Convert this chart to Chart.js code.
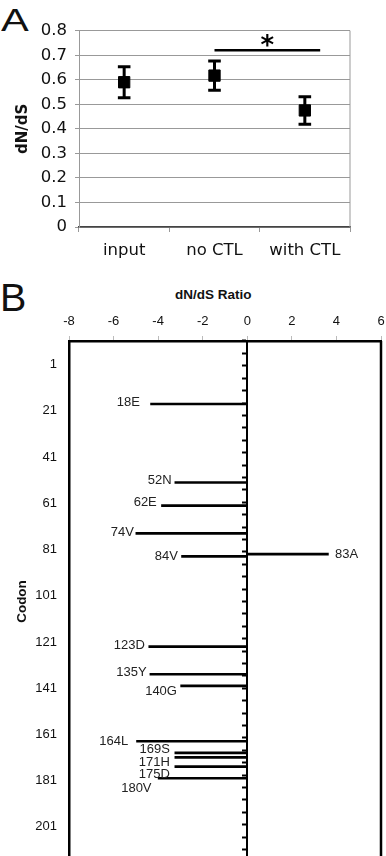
<!DOCTYPE html>
<html>
<head>
<meta charset="utf-8">
<script src="https://cdn.jsdelivr.net/npm/chart.js@4.4.1/dist/chart.umd.min.js"></script>
<style>
  html, body { margin: 0; padding: 0; background: #fff; overflow: hidden; }
  body { width: 386px; height: 856px; position: relative; font-family: 'Liberation Sans', Arial, sans-serif; color: #111; }
  canvas { position: absolute; left: 0; }
  #chartA { top: 0; }
  #chartB { top: 300px; }
  .panel { position: absolute; line-height: 1; color: #111; white-space: nowrap; }
  #labelA { left: 1px; top: 4px; font-size: 32px; transform: scaleX(1.3); transform-origin: left top; }
  #labelB { left: 0; top: 278px; font-size: 39.5px; }
  #titleB { left: 175px; top: 287.5px; font-size: 13.5px; font-weight: bold; }
</style>
</head>
<body>
<div class="panel" id="labelA">A</div>
<div class="panel" id="labelB">B</div>
<div class="panel" id="titleB">dN/dS Ratio</div>
<canvas id="chartA" width="386" height="270"></canvas>
<canvas id="chartB" width="386" height="570"></canvas>
<script>
// Panel A: mean dN/dS per group
const groups = ['input', 'no CTL', 'with CTL'];
const meanRatio = [0.59, 0.617, 0.475];
const ratioError = [0.063, 0.06, 0.056];
const ratioTicks = [0, 0.1, 0.2, 0.3, 0.4, 0.5, 0.6, 0.7, 0.8];
const sigLevel = 0.72;
const sigSpan = [1, 2.17]; // category index: "no CTL" to just past "with CTL"

// Panel B: dN/dS ratio by codon
const codons = [18, 52, 62, 74, 84, 83, 123, 135, 140, 164, 169, 171, 175, 180];
const residues = ['E', 'N', 'E', 'V', 'V', 'A', 'D', 'Y', 'G', 'L', 'S', 'H', 'D', 'V'];
const codonRatio = [-4.34, -3.25, -3.85, -5.0, -2.95, 3.64, -4.42, -4.37, -2.99, -4.97, -3.25, -3.25, -3.25, -4.0];
const ratioAxisTicks = [-8, -6, -4, -2, 0, 2, 4, 6];
const codonTicks = [1, 21, 41, 61, 81, 101, 121, 141, 161, 181, 201];

// label offsets from the bar end (px)
const labelNudge = [[-10.7, -1.5], [-3.3, -2.3], [-4.7, -3.3], [-2, -0.5], [-3.7, -0.2], [6.7, 0.6], [-4, -1.1],
  [-3.3, -1.6], [-3.7, 5.7], [-8.4, 0.5], [-5, -3], [-5, 4.7], [-5, 8], [-6.6, 10.1]];

const minorCodonTicks = [];
for (let c = 1; c <= 206; c += 5) minorCodonTicks.push(c);

const frame = {
  id: 'frame',
  afterDraw(chart, args, opts) {
    const { ctx, chartArea: a } = chart;
    ctx.save();
    ctx.strokeStyle = opts.color;
    ctx.lineWidth = opts.width;
    ctx.beginPath();
    ctx.moveTo(a.right, a.top);
    ctx.lineTo(a.right, a.bottom);
    ctx.stroke();
    ctx.restore();
  }
};

const errorBars = {
  id: 'errorBars',
  beforeDatasetsDraw(chart) {
    const { ctx, scales: { x, y } } = chart;
    ctx.save();
    ctx.strokeStyle = '#000';
    ctx.lineWidth = 3;
    meanRatio.forEach((m, i) => {
      const px = x.getPixelForValue(i);
      const top = y.getPixelForValue(m + ratioError[i]);
      const bot = y.getPixelForValue(m - ratioError[i]);
      ctx.beginPath();
      ctx.moveTo(px, top); ctx.lineTo(px, bot);
      ctx.moveTo(px - 6.3, top); ctx.lineTo(px + 6.3, top);
      ctx.moveTo(px - 6.3, bot); ctx.lineTo(px + 6.3, bot);
      ctx.stroke();
    });
    const sy = y.getPixelForValue(sigLevel);
    const x1 = x.getPixelForValue(sigSpan[0]);
    const x2 = x.getPixelForValue(sigSpan[1]);
    ctx.lineWidth = 2.5;
    ctx.beginPath();
    ctx.moveTo(x1, sy); ctx.lineTo(x2, sy);
    ctx.stroke();
    ctx.fillStyle = '#000';
    ctx.font = 'bold 26px "DejaVu Sans"';
    ctx.textAlign = 'center';
    ctx.textBaseline = 'alphabetic';
    ctx.fillText('*', (x1 + x2) / 2, sy + 4);
    ctx.restore();
  }
};

const codonLabels = {
  id: 'codonLabels',
  afterDatasetsDraw(chart) {
    const { ctx, scales: { x, y } } = chart;
    ctx.save();
    ctx.fillStyle = '#222';
    ctx.font = '13px "Liberation Sans"';
    ctx.textBaseline = 'middle';
    codons.forEach((c, i) => {
      const v = codonRatio[i];
      ctx.textAlign = v < 0 ? 'right' : 'left';
      ctx.fillText(c + residues[i], x.getPixelForValue(v) + labelNudge[i][0], y.getPixelForValue(c) + labelNudge[i][1]);
    });
    ctx.restore();
  }
};

const fontA = { family: 'DejaVu Sans', size: 16.5 };
const fontB = { family: 'Liberation Sans', size: 13 };
const noPadY = s => { s.paddingTop = 0; s.paddingBottom = 0; };

new Chart(document.getElementById('chartA'), {
  type: 'line',
  data: {
    labels: groups,
    datasets: [{
      data: meanRatio,
      showLine: false,
      pointStyle: 'rect',
      pointRadius: 8,
      pointBackgroundColor: '#000',
      pointBorderColor: '#000',
      pointBorderWidth: 1
    }]
  },
  options: {
    responsive: false,
    animation: false,
    layout: { padding: { top: 30.7, right: 36, bottom: 0, left: 0 } },
    plugins: { legend: { display: false }, tooltip: { enabled: false }, frame: { color: '#999', width: 1 } },
    scales: {
      x: {
        offset: true,
        grid: { offset: true, drawOnChartArea: false, tickLength: 5, color: '#999' },
        border: { color: '#444', width: 1.5 },
        ticks: { color: '#111', padding: 9, font: fontA },
        afterFit: s => { s.height = 43; s.paddingLeft = 0; s.paddingRight = 0; }
      },
      y: {
        min: 0,
        max: 0.8,
        afterBuildTicks: s => { s.ticks = ratioTicks.map(v => ({ value: v })); },
        grid: { color: '#999', tickLength: 4 },
        border: { color: '#999' },
        ticks: { color: '#111', padding: 8, font: fontA, callback: v => String(v) },
        title: { display: true, text: 'dN/dS', color: '#111', font: { family: 'DejaVu Sans', size: 15, weight: 'bold' }, padding: { top: 14, bottom: 0 } },
        afterFit: s => { s.width = 79; noPadY(s); }
      }
    }
  },
  plugins: [errorBars, frame]
});

new Chart(document.getElementById('chartB'), {
  type: 'bar',
  data: {
    datasets: [{
      data: codons.map((c, i) => ({ x: codonRatio[i], y: c })),
      backgroundColor: '#000',
      barThickness: 2
    }]
  },
  options: {
    indexAxis: 'y',
    responsive: false,
    animation: false,
    layout: { padding: { top: 0, right: 5, bottom: 8, left: 0 } },
    plugins: { legend: { display: false }, tooltip: { enabled: false }, frame: { color: '#000', width: 2.5 } },
    scales: {
      x: {
        type: 'linear',
        position: 'top',
        min: -8,
        max: 6,
        afterBuildTicks: s => { s.ticks = ratioAxisTicks.map(v => ({ value: v })); },
        grid: { drawOnChartArea: false, tickLength: 5, color: '#bbb' },
        border: { color: '#000', width: 2.5 },
        ticks: { color: '#111', padding: 7, font: fontB },
        afterFit: s => { s.height = 41; s.paddingLeft = 0; s.paddingRight = 0; }
      },
      y: {
        type: 'linear',
        reverse: true,
        min: 1,
        max: 206,
        afterBuildTicks: s => { s.ticks = codonTicks.map(v => ({ value: v })); },
        grid: { drawOnChartArea: false, drawTicks: false },
        border: { color: '#000', width: 2.5 },
        ticks: { color: '#111', padding: 12, font: fontB },
        title: { display: true, text: 'Codon', color: '#111', font: { family: 'Liberation Sans', size: 13.5, weight: 'bold' }, padding: { top: 14, bottom: 0 } },
        afterFit: s => { s.width = 69; noPadY(s); }
      },
      y2: {
        type: 'linear',
        axis: 'y',
        position: { x: 0 },
        reverse: true,
        min: 1,
        max: 206,
        afterBuildTicks: s => { s.ticks = minorCodonTicks.map(v => ({ value: v })); },
        grid: { drawOnChartArea: false, tickLength: 4, tickWidth: 2, tickColor: '#000' },
        border: { color: '#000', width: 2 },
        ticks: { display: false },
        afterFit: noPadY
      }
    }
  },
  plugins: [codonLabels, frame]
});
</script>
</body>
</html>
